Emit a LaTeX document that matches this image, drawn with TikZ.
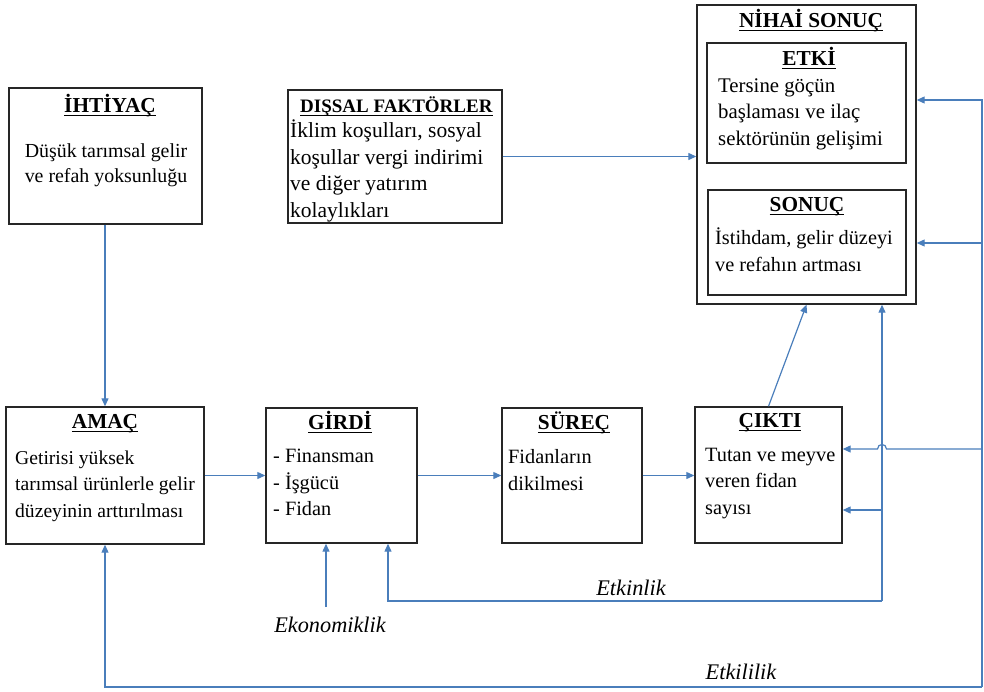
\documentclass[tikz,border=0pt]{standalone}
\usepackage{fontspec}
\setmainfont{Liberation Serif}
\usetikzlibrary{arrows.meta,calc}
\definecolor{lineblue}{HTML}{4A7EBB}
\definecolor{boxgray}{HTML}{262626}
\newcommand{\ulx}[1]{\setbox0\hbox{#1}\rlap{\rule[-4pt]{\wd0}{1.3pt}}\box0}
\tikzset{
  box/.style={draw=boxgray, line width=1.4pt, inner sep=0pt, rectangle},
  ttl/.style={anchor=base, inner sep=0pt, font=\fontsize{21.3}{26.5}\selectfont\bfseries},
  ttlw/.style={anchor=base west, inner sep=0pt, font=\fontsize{19}{26.5}\selectfont\bfseries},
  body/.style={anchor=base west, inner sep=0pt, align=left, font=\fontsize{20.3}{26.5}\selectfont},
  bodyc/.style={anchor=base, inner sep=0pt, align=center, font=\fontsize{19.9}{25}\selectfont},
  lbl/.style={anchor=base, inner sep=0pt, font=\fontsize{22.3}{26}\selectfont\itshape},
  conn/.style={draw=lineblue, line width=1.2pt, line join=miter, -{Triangle[length=8pt,width=7pt]}},
}
\begin{document}
\begin{tikzpicture}[x=1pt,y=-1pt]
\useasboundingbox (0,0) rectangle (984,691);
% boxes
\node[box, minimum width=193pt, minimum height=136pt] (ihtiyac) at (105.5,156) {};
\node[box, minimum width=214pt, minimum height=133pt] (dissal) at (395,156.5) {};
\node[box, minimum width=219pt, minimum height=299pt] (nihai) at (806.5,154.5) {};
\node[box, minimum width=199pt, minimum height=120pt] (etki) at (806.5,103) {};
\node[box, minimum width=198pt, minimum height=105pt] (sonuc) at (807,242.5) {};
\node[box, minimum width=198pt, minimum height=137pt] (amac) at (105,475.5) {};
\node[box, minimum width=151pt, minimum height=135pt] (girdi) at (341.5,475.5) {};
\node[box, minimum width=140pt, minimum height=135pt] (surec) at (572,475.5) {};
\node[box, minimum width=147pt, minimum height=136pt] (cikti) at (768.5,475) {};
% texts (body nodes are placed by the baseline of their last line)
\node[ttl] (tihtiyac) at (110,112) {\ulx{İHTİYAÇ}};
\node[bodyc] (bihtiyac) at (106,182) {Düşük tarımsal gelir\\ve refah yoksunluğu};
\node[ttlw] (tdissal) at (300,112) {\ulx{DIŞSAL FAKTÖRLER}};
\node[body, font=\fontsize{21.5}{26.5}\selectfont] (bdissal) at (290,217) {İklim koşulları, sosyal\\koşullar vergi indirimi\\ve diğer yatırım\\kolaylıkları};
\node[ttl] (tnihai) at (811,27) {\ulx{NİHAİ SONUÇ}};
\node[ttl] (tetki) at (809,65) {\ulx{ETKİ}};
\node[body, font=\fontsize{20.8}{26.5}\selectfont] (betki) at (718,145) {Tersine göçün\\başlaması ve ilaç\\sektörünün gelişimi};
\node[ttl] (tsonuc) at (807,211) {\ulx{SONUÇ}};
\node[body] (bsonuc) at (715,271) {İstihdam, gelir düzeyi\\ve refahın artması};
\node[ttl] (tamac) at (105,428) {\ulx{AMAÇ}};
\node[body, font=\fontsize{19.6}{26.5}\selectfont] (bamac) at (15,517) {Getirisi yüksek\\tarımsal ürünlerle gelir\\düzeyinin arttırılması};
\node[ttl] (tgirdi) at (340,429) {\ulx{GİRDİ}};
\node[body] (bgirdi) at (273,515.5) {- Finansman\\- İşgücü\\- Fidan};
\node[ttl] (tsurec) at (574,429) {\ulx{SÜREÇ}};
\node[body] (bsurec) at (508,490) {Fidanların\\dikilmesi};
\node[ttl] (tcikti) at (770,427) {\ulx{ÇIKTI}};
\node[body] (bcikti) at (705,514) {Tutan ve meyve\\veren fidan\\sayısı};
% labels
\node[lbl] (etkinlik) at (631,595) {Etkinlik};
\node[lbl] (ekonomiklik) at (330,632) {Ekonomiklik};
\node[lbl] (etkililik) at (741,679) {Etkililik};
% main flow
\draw[conn] (amac.north |- ihtiyac.south) -- (amac.north);
\draw[conn] (amac.east) -- (girdi.west);
\draw[conn] (girdi.east) -- (surec.west);
\draw[conn] (surec.east) -- (surec.east -| cikti.west);
\draw[conn] (dissal.east) -- (dissal.east -| nihai.west);
\draw[conn] (cikti.north) -- (nihai.south);
% Etkinlik loop
\coordinate (etR) at (882,601);
\coordinate (etL) at (388,601);
\coordinate (etC) at (882,510);
\draw[conn] (etR) -- (etL) -- (etL |- girdi.south);
\draw[conn] (etR) -- (etR |- nihai.south);
\draw[conn] (etC) -- (etC -| cikti.east);
% Ekonomiklik
\coordinate (ekT) at (326,607);
\draw[conn] (ekT) -- (ekT |- girdi.south);
% Etkililik loop
\coordinate (elR) at (982,687);
\coordinate (elL) at (105,687);
\coordinate (elT) at (982,100);
\coordinate (elM) at (982,243);
\coordinate (elC) at (982,449);
\coordinate (hopA) at ($(etR |- elC)+(4.5,0)$);
\coordinate (hopB) at ($(etR |- elC)+(-4.5,0)$);
\draw[conn] (elR) -- (elL) -- (amac.south);
\draw[conn] (elR) -- (elT) -- (elT -| nihai.east);
\draw[conn] (elM) -- (elM -| nihai.east);
\draw[conn] (elC) -- (hopA) .. controls ($(hopA)+(0,-6)$) and ($(hopB)+(0,-6)$) .. (hopB) -- (elC -| cikti.east);
\end{tikzpicture}
\end{document}
